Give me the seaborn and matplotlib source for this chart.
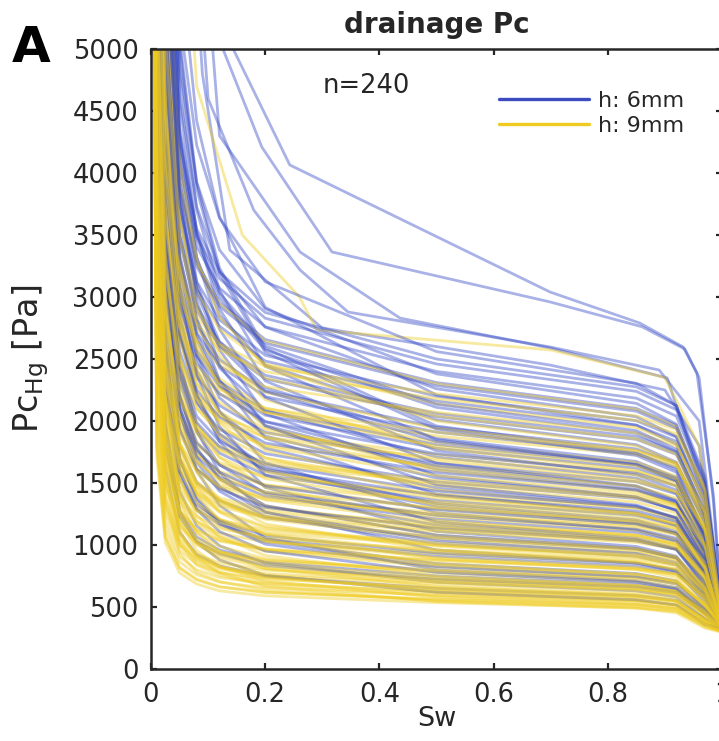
import matplotlib
matplotlib.use("Agg")
import matplotlib.pyplot as plt
from matplotlib.lines import Line2D
import seaborn as sns

sns.set_style("ticks")
plt.rcParams["font.family"] = ["DejaVu Sans"]
plt.rcParams["mathtext.fontset"] = "dejavusans"

# ---------------- data ----------------
SW = [0.0, 0.01, 0.025, 0.05, 0.08, 0.12, 0.2, 0.5, 0.85, 0.92, 0.97, 1.0]

yellow_pc = [
    [9000, 1710, 1020, 775, 685, 630, 590, 535, 492, 465, 355, 300],
    [9000, 2480, 1380, 935, 780, 705, 635, 550, 500, 468, 345, 305],
    [9000, 1810, 1070, 820, 725, 665, 620, 565, 520, 490, 375, 310],
    [9000, 3480, 1860, 1190, 955, 825, 710, 580, 522, 480, 340, 300],
    [9000, 1900, 1130, 865, 760, 700, 655, 595, 548, 518, 393, 315],
    [9000, 2745, 1525, 1035, 865, 780, 700, 610, 555, 518, 378, 310],
    [9000, 2000, 1190, 905, 800, 738, 688, 625, 575, 544, 413, 320],
    [9000, 2900, 1610, 1095, 915, 825, 742, 645, 587, 548, 400, 315],
    [9000, 3990, 2130, 1365, 1100, 945, 810, 665, 598, 552, 386, 310],
    [9000, 2190, 1300, 995, 877, 808, 754, 685, 630, 596, 452, 325],
    [9000, 3170, 1760, 1200, 1000, 902, 810, 705, 642, 600, 437, 320],
    [9000, 2320, 1380, 1050, 928, 855, 798, 725, 667, 630, 478, 330],
    [9000, 4500, 2400, 1540, 1240, 1065, 915, 750, 675, 622, 435, 320],
    [9000, 3490, 1940, 1320, 1100, 990, 890, 775, 705, 658, 480, 330],
    [9000, 2560, 1520, 1160, 1025, 945, 880, 800, 736, 696, 528, 335],
    [9000, 3710, 2060, 1400, 1170, 1055, 950, 825, 750, 700, 512, 330],
    [9000, 5100, 2720, 1745, 1400, 1205, 1037, 850, 765, 705, 493, 325],
    [9000, 2800, 1660, 1270, 1120, 1032, 962, 875, 805, 760, 578, 345],
    [9000, 4050, 2250, 1530, 1278, 1152, 1035, 900, 819, 765, 558, 340],
    [9000, 2975, 1765, 1350, 1190, 1097, 1023, 930, 856, 809, 614, 350],
    [9000, 5760, 3070, 1970, 1585, 1365, 1170, 960, 864, 797, 557, 335],
    [9000, 4455, 2475, 1683, 1405, 1267, 1138, 990, 901, 842, 614, 345],
    [9000, 3265, 1940, 1480, 1305, 1203, 1122, 1020, 938, 887, 673, 355],
    [9000, 4725, 2625, 1785, 1490, 1344, 1208, 1050, 955, 892, 651, 350],
    [9000, 6480, 3455, 2215, 1782, 1533, 1318, 1080, 972, 896, 626, 345],
    [9000, 3550, 2110, 1610, 1420, 1310, 1220, 1110, 1021, 966, 733, 360],
    [9000, 5130, 2850, 1938, 1618, 1460, 1310, 1140, 1037, 969, 707, 355],
    [9000, 3745, 2225, 1697, 1497, 1380, 1287, 1170, 1076, 1018, 772, 365],
    [9000, 7200, 3840, 2460, 1980, 1705, 1465, 1200, 1080, 996, 696, 350],
    [9000, 5535, 3075, 2090, 1746, 1575, 1414, 1230, 1119, 1045, 763, 360],
    [9000, 4030, 2395, 1827, 1612, 1486, 1386, 1260, 1159, 1096, 832, 370],
    [9000, 5805, 3225, 2193, 1832, 1651, 1483, 1290, 1174, 1096, 800, 365],
    [9000, 7920, 4225, 2705, 2178, 1875, 1610, 1320, 1188, 1095, 766, 360],
    [9000, 4320, 2565, 1958, 1728, 1593, 1485, 1350, 1242, 1175, 891, 375],
    [9000, 6210, 3450, 2346, 1960, 1766, 1587, 1380, 1256, 1173, 856, 370],
    [9000, 4510, 2680, 2045, 1805, 1664, 1551, 1410, 1297, 1227, 931, 380],
    [9000, 8670, 4625, 2962, 2384, 2052, 1763, 1445, 1300, 1199, 838, 365],
    [9000, 6660, 3700, 2516, 2102, 1894, 1702, 1480, 1347, 1258, 918, 375],
    [9000, 4865, 2888, 2204, 1946, 1794, 1672, 1520, 1398, 1322, 1003, 385],
    [9000, 7020, 3900, 2652, 2215, 1997, 1794, 1560, 1420, 1326, 967, 380],
    [9000, 9000, 5120, 3280, 2640, 2272, 1952, 1600, 1440, 1328, 928, 375],
    [9000, 5250, 3115, 2378, 2100, 1935, 1804, 1640, 1509, 1427, 1082, 390],
    [9000, 7560, 4200, 2856, 2385, 2150, 1932, 1680, 1529, 1428, 1042, 385],
    [9000, 5535, 3287, 2508, 2214, 2041, 1903, 1730, 1592, 1505, 1142, 395],
    [9000, 9000, 5695, 3650, 2937, 2528, 2172, 1780, 1602, 1477, 1032, 385],
    [9000, 8235, 4575, 3110, 2598, 2342, 2104, 1830, 1665, 1555, 1135, 390],
    [9000, 6015, 3572, 2726, 2406, 2218, 2068, 1880, 1730, 1636, 1241, 400],
    [9000, 8730, 4850, 3298, 2755, 2483, 2231, 1940, 1765, 1649, 1203, 395],
    [9000, 9000, 6400, 4100, 3300, 2840, 2440, 2000, 1800, 1660, 1160, 390],
    [9000, 6625, 3933, 3000, 2650, 2443, 2277, 2070, 1904, 1801, 1366, 405],
    [9000, 9000, 5350, 3638, 3039, 2739, 2461, 2140, 1947, 1819, 1327, 400],
    [9000, 7100, 4218, 3219, 2842, 2620, 2442, 2220, 2042, 1931, 1465, 410],
    [9000, 9000, 5750, 3910, 3266, 2944, 2645, 2300, 2093, 1955, 1426, 405],
    [9000, 3240, 1800, 1224, 1022, 922, 828, 720, 655, 612, 446, 325],
    [9000, 2815, 1672, 1276, 1126, 1038, 968, 880, 810, 766, 581, 340],
    [9000, 4500, 2500, 1700, 1420, 1280, 1150, 1000, 910, 850, 620, 350],
    [9000, 3680, 2185, 1668, 1472, 1357, 1265, 1150, 1058, 1000, 759, 360],
    [9000, 2880, 1600, 1088, 909, 819, 736, 640, 582, 544, 397, 315],
    [9000, 4160, 2470, 1885, 1664, 1534, 1430, 1300, 1196, 1131, 858, 370],
    [9000, 3070, 1824, 1392, 1229, 1133, 1056, 960, 883, 835, 634, 345],
    [9000, 3270, 1744, 1117, 899, 774, 665, 545, 491, 452, 330, 295],
    [9000, 1792, 1064, 812, 717, 661, 616, 560, 515, 487, 370, 300],
    [9000, 2655, 1475, 1003, 838, 755, 679, 590, 537, 502, 366, 305],
    [9000, 3720, 1984, 1271, 1023, 880, 756, 620, 558, 515, 360, 305],
    [9000, 2112, 1254, 957, 845, 779, 726, 660, 607, 574, 436, 320],
    [9000, 2240, 1330, 1015, 896, 826, 770, 700, 644, 609, 462, 325],
    [9000, 3330, 1850, 1258, 1051, 947, 851, 740, 673, 629, 459, 330],
    [9000, 2528, 1501, 1146, 1011, 932, 869, 790, 727, 687, 521, 335],
    [9000, 3780, 2100, 1428, 1193, 1075, 966, 840, 764, 714, 521, 335],
    [9000, 5340, 2848, 1825, 1469, 1264, 1086, 890, 801, 739, 516, 335],
    [9000, 4253, 2363, 1607, 1342, 1210, 1087, 945, 860, 803, 586, 345],
    [9000, 3200, 1900, 1450, 1280, 1180, 1100, 1000, 920, 870, 660, 350],
    [9000, 4793, 2663, 1811, 1512, 1363, 1225, 1065, 969, 905, 660, 355],
    [9000, 3600, 2138, 1631, 1440, 1328, 1238, 1125, 1035, 979, 743, 360],
    [9000, 5333, 2963, 2015, 1683, 1517, 1363, 1185, 1078, 1007, 735, 360],
    [9000, 3984, 2366, 1805, 1594, 1469, 1370, 1245, 1145, 1083, 822, 365],
    [9000, 6008, 3338, 2270, 1896, 1709, 1535, 1335, 1215, 1135, 828, 370],
    [9000, 8370, 4464, 2860, 2302, 1981, 1702, 1395, 1256, 1158, 809, 370],
    [9000, 4800, 2850, 2175, 1920, 1770, 1650, 1500, 1380, 1305, 990, 385],
    [9000, 7290, 4050, 2754, 2300, 2074, 1863, 1620, 1474, 1377, 1004, 390],
    [9000, 5440, 3230, 2465, 2176, 2006, 1870, 1700, 1564, 1479, 1122, 395],
    [9000, 8100, 4500, 3060, 2556, 2304, 2070, 1800, 1638, 1530, 1116, 400],
    [9000, 6112, 3629, 2770, 2445, 2254, 2101, 1910, 1757, 1662, 1261, 400],
    [9000, 9000, 5100, 3468, 2897, 2611, 2346, 2040, 1856, 1734, 1265, 405],
    [9000, 6976, 4142, 3161, 2790, 2572, 2398, 2180, 2006, 1897, 1439, 410],
]

blue_pc = [
    [9000, 2925, 1625, 1105, 923, 832, 748, 650, 592, 553, 403, 320],
    [9000, 4200, 2240, 1435, 1155, 994, 854, 700, 630, 581, 406, 325],
    [9000, 3375, 1875, 1275, 1065, 960, 862, 750, 683, 638, 465, 335],
    [9000, 6400, 3360, 2080, 1600, 1320, 1056, 800, 712, 656, 448, 340],
    [9000, 5000, 2650, 1700, 1380, 1190, 1030, 850, 770, 710, 495, 345],
    [9000, 4095, 2275, 1547, 1292, 1165, 1047, 910, 828, 774, 564, 355],
    [9000, 7680, 4030, 2496, 1920, 1584, 1267, 960, 854, 787, 538, 360],
    [9000, 6060, 3232, 2070, 1667, 1434, 1232, 1010, 909, 838, 586, 360],
    [9000, 4770, 2650, 1802, 1505, 1357, 1219, 1060, 965, 901, 657, 365],
    [9000, 8880, 4662, 2886, 2220, 1832, 1465, 1110, 988, 910, 622, 370],
    [9000, 6960, 3712, 2378, 1914, 1647, 1415, 1160, 1044, 963, 673, 370],
    [9000, 5445, 3025, 2057, 1718, 1549, 1392, 1210, 1101, 1029, 750, 375],
    [9000, 9000, 5292, 3276, 2520, 2079, 1663, 1260, 1121, 1033, 706, 380],
    [9000, 7860, 4192, 2686, 2162, 1860, 1598, 1310, 1179, 1087, 760, 380],
    [9000, 6120, 3400, 2312, 1931, 1741, 1564, 1360, 1238, 1156, 843, 385],
    [9000, 9000, 5922, 3666, 2820, 2327, 1861, 1410, 1255, 1156, 790, 385],
    [9000, 8760, 4672, 2993, 2409, 2073, 1781, 1460, 1314, 1212, 847, 390],
    [9000, 6795, 3775, 2567, 2144, 1933, 1737, 1510, 1374, 1284, 936, 390],
    [9000, 9000, 6552, 4056, 3120, 2574, 2059, 1560, 1388, 1279, 874, 395],
    [9000, 9000, 5152, 3300, 2657, 2286, 1964, 1610, 1449, 1336, 934, 395],
    [9000, 7470, 4150, 2822, 2357, 2125, 1909, 1660, 1511, 1411, 1029, 400],
    [9000, 9000, 5472, 3506, 2822, 2428, 2086, 1710, 1539, 1419, 992, 400],
    [9000, 9000, 7392, 4576, 3520, 2904, 2323, 1760, 1566, 1443, 986, 405],
    [9000, 8145, 4525, 3077, 2570, 2317, 2082, 1810, 1647, 1539, 1122, 410],
    [9000, 9000, 5952, 3813, 3069, 2641, 2269, 1860, 1674, 1544, 1079, 410],
    [9000, 8595, 4775, 3247, 2712, 2445, 2197, 1910, 1738, 1624, 1184, 415],
    [9000, 9000, 8232, 5096, 3920, 3234, 2587, 1960, 1744, 1607, 1098, 420],
    [9000, 9000, 6432, 4121, 3317, 2854, 2452, 2010, 1809, 1668, 1166, 420],
    [9000, 9000, 5150, 3502, 2925, 2637, 2369, 2060, 1875, 1751, 1277, 425],
    [9000, 9000, 6752, 4326, 3482, 2996, 2574, 2110, 1899, 1751, 1224, 425],
    [9000, 9000, 5400, 3672, 3067, 2765, 2484, 2160, 1966, 1836, 1339, 430],
    [9000, 9000, 9000, 5746, 4420, 3647, 2917, 2210, 1967, 1812, 1238, 430],
    [9000, 9000, 7232, 4633, 3729, 3209, 2757, 2260, 2034, 1876, 1311, 435],
    [9000, 9000, 5775, 3927, 3280, 2957, 2657, 2310, 2102, 1964, 1432, 440],
    [9000, 9000, 7616, 4879, 3927, 3380, 2904, 2380, 2142, 1975, 1380, 440],
    [9000, 9000, 6150, 4182, 3493, 3149, 2829, 2460, 2239, 2091, 1525, 445],
    [9000, 9000, 8192, 5248, 4224, 3635, 3123, 2560, 2304, 2125, 1485, 450],
    [9000, 5580, 3100, 2108, 1761, 1587, 1426, 1240, 1128, 1054, 769, 375],
    [9000, 9000, 4928, 3157, 2541, 2187, 1879, 1540, 1386, 1278, 893, 395],
    [9000, 8010, 4450, 3026, 2528, 2278, 2047, 1780, 1620, 1513, 1104, 405],
    [9000, 6480, 3456, 2214, 1782, 1534, 1318, 1080, 972, 896, 626, 365],
    [9000, 8775, 4875, 3315, 2769, 2496, 2243, 1950, 1775, 1658, 1209, 415],
    [9000, 6300, 3500, 2380, 1988, 1792, 1610, 1400, 1274, 1190, 868, 385],
    [9000, 9000, 5500, 3740, 3124, 2816, 2530, 2200, 2002, 1870, 1364, 430],
    [9000, 4680, 2496, 1599, 1287, 1108, 952, 780, 702, 647, 452, 335],
    [9000, 9000, 6972, 4316, 3320, 2739, 2191, 1660, 1477, 1361, 930, 400],
    [9000, 9000, 6000, 4080, 3408, 3072, 2760, 2400, 2184, 2040, 1488, 445],
    [9000, 9000, 7770, 4810, 3700, 3053, 2442, 1850, 1647, 1517, 1036, 410],
    [9000, 3720, 1984, 1271, 1023, 880, 756, 620, 558, 515, 362, 320],
    [9000, 3263, 1813, 1233, 1030, 928, 834, 725, 660, 616, 450, 330],
    [9000, 4950, 2640, 1691, 1361, 1172, 1007, 825, 743, 685, 479, 340],
    [9000, 4208, 2338, 1590, 1328, 1197, 1075, 935, 851, 795, 580, 355],
    [9000, 6210, 3312, 2122, 1708, 1470, 1263, 1035, 932, 859, 600, 360],
    [9000, 5108, 2838, 1930, 1612, 1453, 1305, 1135, 1033, 965, 704, 370],
    [9000, 9000, 4977, 3081, 2370, 1955, 1564, 1185, 1055, 972, 664, 375],
    [9000, 5783, 3213, 2185, 1825, 1645, 1478, 1285, 1169, 1092, 797, 380],
    [9000, 8010, 4272, 2737, 2203, 1896, 1629, 1335, 1202, 1108, 774, 385],
    [9000, 6458, 3588, 2440, 2038, 1837, 1650, 1435, 1306, 1220, 890, 390],
    [9000, 9000, 6237, 3861, 2970, 2450, 1960, 1485, 1322, 1218, 832, 390],
    [9000, 7133, 3963, 2695, 2251, 2029, 1823, 1585, 1442, 1347, 983, 395],
    [9000, 9000, 5232, 3352, 2698, 2322, 1995, 1635, 1472, 1357, 948, 400],
    [9000, 7808, 4338, 2950, 2464, 2221, 1995, 1735, 1579, 1475, 1076, 405],
    [9000, 9000, 5872, 3762, 3028, 2606, 2239, 1835, 1652, 1523, 1064, 410],
    [9000, 9000, 8127, 5031, 3870, 3193, 2554, 1935, 1722, 1587, 1084, 415],
    [9000, 9000, 5088, 3460, 2890, 2605, 2340, 2035, 1852, 1730, 1262, 420],
    [9000, 9000, 6832, 4377, 3523, 3032, 2605, 2135, 1922, 1772, 1238, 425],
    [9000, 9000, 5713, 3885, 3245, 2925, 2628, 2285, 2079, 1942, 1417, 435],
    [9000, 9000, 6250, 4250, 3550, 3200, 2875, 2500, 2275, 2125, 1550, 450],
]

# individually sampled outlier curves (own Sw positions)
blue_out_sw = [
    [0.05, 0.144, 0.243, 0.699, 0.856, 0.932, 0.956, 0.985, 1.0],
    [0.05, 0.126, 0.194, 0.317, 0.699, 0.86, 0.935, 0.96, 0.985, 1.0],
    [0.04, 0.12, 0.261, 0.436, 0.699, 0.904, 0.974, 1.0],
    [0.03, 0.1, 0.18, 0.261, 0.345, 0.699, 0.89, 0.96, 1.0],
    [0.03, 0.09, 0.138, 0.3, 0.7, 0.9, 0.96, 1.0],
]
blue_out_pc = [
    [9000, 5000, 4065, 3040, 2790, 2597, 2387, 1400, 450],
    [9000, 5000, 4210, 3363, 2960, 2760, 2580, 2350, 1350, 440],
    [9000, 4300, 3363, 2830, 2589, 2347, 1363, 450],
    [9000, 4600, 3700, 3218, 2879, 2597, 2411, 2000, 460],
    [9000, 4800, 3379, 2750, 2450, 2250, 1800, 440],
]
yellow_out_sw = [[0.02, 0.08, 0.16, 0.26, 0.29, 0.7, 0.9, 0.96, 1.0]]
yellow_out_pc = [[9000, 4700, 3500, 3000, 2734, 2573, 2350, 1800, 420]]

legend_labels = ["h: 6mm", "h: 9mm"]
x_ticks = [0, 0.2, 0.4, 0.6, 0.8, 1.0]
x_ticklabels = ["0", "0.2", "0.4", "0.6", "0.8", "1"]
y_ticks = [0, 500, 1000, 1500, 2000, 2500, 3000, 3500, 4000, 4500, 5000]

# ---------------- styling ----------------
BLUE = "#3448C5"
YELLOW = "#EFCB1E"
AX_COL = "#262626"
LW = 2.0
ALPHA = 0.42

fig = plt.figure(figsize=(7.19, 7.41), dpi=100)
ax = fig.add_axes([151 / 719, 72 / 741, 571 / 719, 620 / 741])

for sw, pc in zip(blue_out_sw, blue_out_pc):
    sns.lineplot(x=sw, y=pc, color=BLUE, alpha=ALPHA, lw=LW, ax=ax,
                 sort=False, estimator=None)
for sw, pc in zip(yellow_out_sw, yellow_out_pc):
    sns.lineplot(x=sw, y=pc, color=YELLOW, alpha=ALPHA, lw=LW, ax=ax,
                 sort=False, estimator=None)

n = max(len(yellow_pc), len(blue_pc))
for i in range(n):
    if i < len(blue_pc):
        sns.lineplot(x=SW, y=blue_pc[i], color=BLUE, alpha=ALPHA, lw=LW,
                     ax=ax, sort=False, estimator=None)
    if i < len(yellow_pc):
        sns.lineplot(x=SW, y=yellow_pc[i], color=YELLOW, alpha=ALPHA, lw=LW,
                     ax=ax, sort=False, estimator=None)

ax.set_xlim(0, 1)
ax.set_ylim(0, 5000)
ax.set_xticks(x_ticks)
ax.set_xticklabels(x_ticklabels)
ax.set_yticks(y_ticks)
ax.set_yticklabels([str(v) for v in y_ticks])

for s in ax.spines.values():
    s.set_visible(True)
    s.set_linewidth(1.8)
    s.set_color(AX_COL)

ax.tick_params(axis="both", direction="in", length=4.5, width=1.6,
               colors=AX_COL, labelsize=18.5, top=True, right=True)
ax.tick_params(axis="y", pad=9)
ax.tick_params(axis="x", pad=9)

ax.set_xlabel("Sw", fontsize=19.5, color=AX_COL)
ax.xaxis.set_label_coords(0.5, -0.06)
ax.set_ylabel(r"Pc$_{\mathrm{Hg}}$ [Pa]", fontsize=24, color=AX_COL)
ax.yaxis.set_label_coords(-0.175, 0.5)
ax.set_title("drainage Pc", fontsize=20, fontweight="bold", pad=11.5)

ax.text(0.3, 4700, "n=240", fontsize=18.5, ha="left", va="center",
        color=AX_COL)

handles = [Line2D([0], [0], color="#3A4CC0", lw=2.4),
           Line2D([0], [0], color="#EFCB22", lw=2.4)]
leg = ax.legend(handles, legend_labels, loc="upper left",
                bbox_to_anchor=(0.609, 0.932), frameon=False, fontsize=16,
                handlelength=4.05, handletextpad=0.4, labelspacing=0.2,
                borderpad=0, borderaxespad=0)
for t in leg.get_texts():
    t.set_color(AX_COL)

fig.text(12 / 719, 1 - 62 / 741, "A", fontsize=36, fontweight="bold",
         ha="left", va="baseline", color="black")

fig.savefig("out.png", dpi=100)
